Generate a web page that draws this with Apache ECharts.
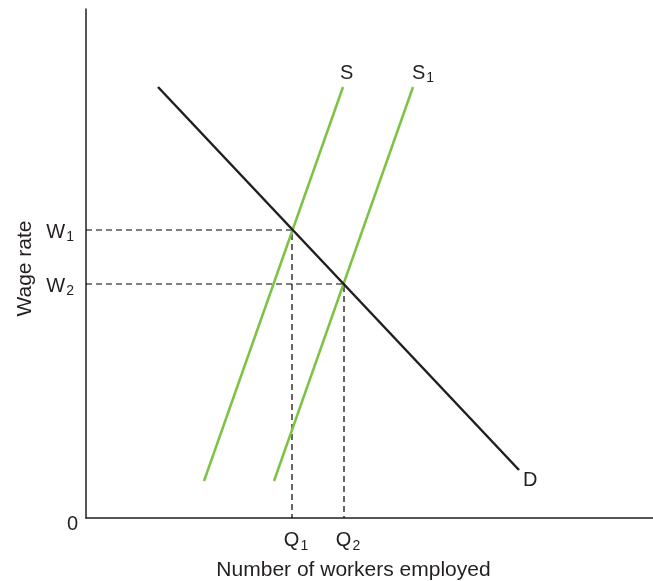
<!DOCTYPE html>
<html>
<head>
<meta charset="utf-8">
<script src="https://cdn.jsdelivr.net/npm/echarts@6/dist/echarts.min.js"></script>
<style>
  html, body { margin: 0; padding: 0; background: #fff; }
  #main { width: 653px; height: 581px; }
</style>
</head>
<body>
<div id="main"></div>
<script>
// chart units: x = workers, y = wage (arbitrary scale)
var xMax = 567, yMax = 509;
var demand = [[72, 431], [433, 48]];
var supply = [[118, 37], [257, 431]];
var supply1 = [[188, 37], [327, 431]];
var w1 = 288, w2 = 234;
var q1 = 206, q2 = 258;

var font = 'Liberation Sans, Arial, sans-serif';
var ink = '#231f20';
var rich = {
  m: { fontSize: 20, fontFamily: font, color: ink },
  s: { fontSize: 14, fontFamily: font, color: ink, padding: [11, 0, 0, 1] }
};

var myChart = echarts.init(document.getElementById('main'));

function dashed(data, name) {
  return {
    name: name,
    type: 'line',
    data: data,
    symbol: 'none',
    silent: true,
    lineStyle: { color: '#000', width: 1.2, type: [6, 4] }
  };
}

option = {
  animation: false,
  grid: { left: 86, top: 9, right: 0, bottom: 63, outerBoundsMode: 'none' },
  xAxis: {
    type: 'value', min: 0, max: xMax,
    name: 'Number of workers employed',
    nameLocation: 'middle', nameGap: 42,
    nameTextStyle: { fontSize: 21, fontFamily: font, color: ink, padding: [0, 32, 0, 0] },
    axisLine: { show: true, lineStyle: { color: ink, width: 1.5 } },
    axisTick: { show: false }, axisLabel: { show: false }, splitLine: { show: false }
  },
  yAxis: {
    type: 'value', min: 0, max: yMax,
    name: 'Wage rate',
    nameLocation: 'middle', nameGap: 50,
    nameTextStyle: { fontSize: 21, fontFamily: font, color: ink, padding: [0, 10, 0, 0] },
    axisLine: { show: true, lineStyle: { color: ink, width: 1.5 } },
    axisTick: { show: false }, axisLabel: { show: false }, splitLine: { show: false }
  },
  series: [
    dashed([[0, w1], [q1, w1], [q1, 0]], 'w1'),
    dashed([[0, w2], [q2, w2], [q2, 0]], 'w2'),
    {
      name: 'S', type: 'line', data: supply, symbol: 'none',
      lineStyle: { color: '#7dc242', width: 2.5 },
      endLabel: { show: true, formatter: '{m|S}', rich: rich, offset: [-11, -14] }
    },
    {
      name: 'S1', type: 'line', data: supply1, symbol: 'none',
      lineStyle: { color: '#7dc242', width: 2.5 },
      endLabel: { show: true, formatter: '{m|S}{s|1}', rich: rich, offset: [-9, -14] }
    },
    {
      name: 'D', type: 'line', data: demand, symbol: 'none',
      lineStyle: { color: ink, width: 2.5 },
      endLabel: { show: true, formatter: '{m|D}', rich: rich, offset: [-4, 10] }
    },
    {
      name: 'labels', type: 'scatter', symbolSize: 0, silent: true,
      itemStyle: { opacity: 1, color: ink },
      data: [
        { value: [0, w1], label: { formatter: '{m|W}{s|1}', position: 'left', distance: 12, offset: [0, 2] } },
        { value: [0, w2], label: { formatter: '{m|W}{s|2}', position: 'left', distance: 12, offset: [0, 2] } },
        { value: [q1, 0], label: { formatter: '{m|Q}{s|1}', position: 'bottom', distance: 10, offset: [4, 0] } },
        { value: [q2, 0], label: { formatter: '{m|Q}{s|2}', position: 'bottom', distance: 10, offset: [4, 0] } },
        { value: [0, 0], label: { formatter: '{m|0}', position: 'left', distance: 8, offset: [0, 6] } }
      ],
      label: { show: true, rich: rich, color: ink, opacity: 1 }
    }
  ]
};
myChart.setOption(option);
</script>
</body>
</html>
